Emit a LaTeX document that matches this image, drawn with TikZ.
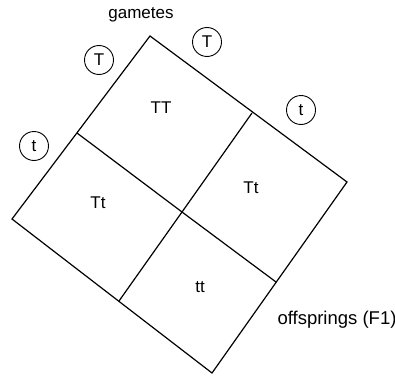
\documentclass[tikz,border=0pt]{standalone}
\usepackage{fontspec}
\setmainfont{Liberation Sans}
\usetikzlibrary{positioning}

\tikzset{
  gamete/.style={draw, circle, minimum size=29pt, inner sep=0pt, line width=0.9pt, font=\fontsize{17}{20}\selectfont},
  geno/.style={font=\fontsize{17}{20}\selectfont},
  grid/.style={line width=1.2pt, line join=miter}
}

\begin{document}
\begin{tikzpicture}[x=1pt, y=-1pt]
  \useasboundingbox (0,0) rectangle (395,377);

  % corners of the Punnett square
  \coordinate (top) at (150,36);
  \coordinate (right) at (347,182);
  \coordinate (bottom) at (212,373);
  \coordinate (left) at (12,219);

  % division points
  \coordinate (tl) at (77,133);
  \coordinate (tr) at (252,113);
  \coordinate (br) at (276,282);
  \coordinate (bl) at (119,301);
  \coordinate (mid) at (182,212);

  \draw[grid] (top) -- (right) -- (bottom) -- (left) -- cycle;
  \draw[grid] (tl) -- (mid) -- (br);
  \draw[grid] (tr) -- (mid) -- (bl);

  % gametes
  \node[geno] (gam) at (141,15) {gametes};
  \node[gamete] (g1) at (99,60) {T};
  \node[gamete] (g2) at (207,42) {T};
  \node[gamete] (g3) at (301,110) {t};
  \node[gamete] (g4) at (34,146) {t};

  % offsprings
  \node[geno] (TT) at (161,108) {TT};
  \node[geno] (Tt1) at (251,188) {Tt};
  \node[geno] (Tt2) at (98,203) {Tt};
  \node[geno] (tt) at (200,287) {tt};
  \node[geno, font=\fontsize{18.5}{22}\selectfont] (off) at (337,320) {offsprings (F1)};
\end{tikzpicture}
\end{document}
